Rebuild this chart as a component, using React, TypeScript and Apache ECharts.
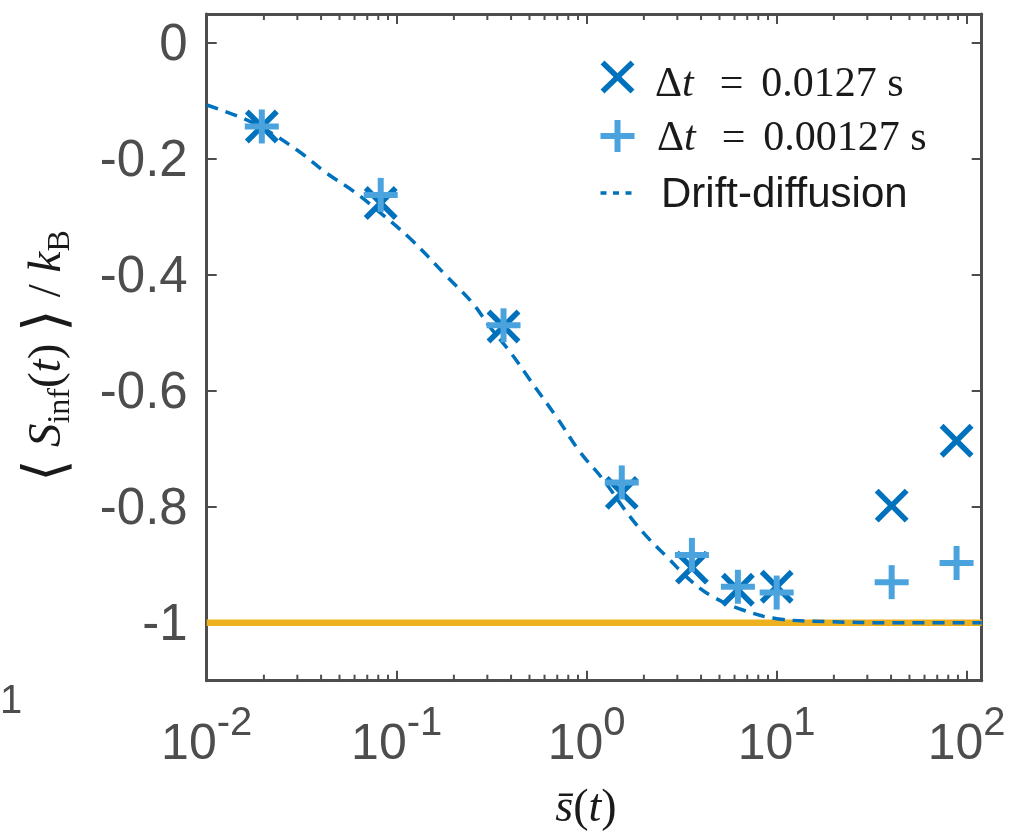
import React, { useEffect, useRef } from 'react';
import * as echarts from 'echarts';

// ---- data ----
const xTickValues = [0.01, 0.1, 1, 10, 100];
const xTickExponents = ['-2', '-1', '0', '1', '2'];
const yTickValues = [-1, -0.8, -0.6, -0.4, -0.2, 0];
const minorTickValues = [
  0.02, 0.03, 0.04, 0.05, 0.06, 0.07, 0.08, 0.09,
  0.2, 0.3, 0.4, 0.5, 0.6, 0.7, 0.8, 0.9,
  2, 3, 4, 5, 6, 7, 8, 9,
  20, 30, 40, 50, 60, 70, 80, 90,
];
const sampleX = [0.0195, 0.0824, 0.365, 1.53, 3.58, 6.25, 10, 40.3, 88.5];
const coarseY = [-0.144, -0.276, -0.489, -0.776, -0.905, -0.943, -0.938, -0.798, -0.686]; // Δt = 0.0127 s
const fineY = [-0.144, -0.262, -0.487, -0.758, -0.883, -0.938, -0.948, -0.930, -0.897]; // Δt = 0.00127 s
const driftX = [0.01, 0.015, 0.02, 0.03, 0.043, 0.06, 0.08, 0.12, 0.184, 0.25, 0.31, 0.4, 0.5, 0.7, 0.92, 1.22, 1.69, 2.15, 2.64, 3.49, 4.61, 6.64, 10, 18.4, 40, 120];
const driftY = [-0.107, -0.128, -0.148, -0.185, -0.225, -0.257, -0.29, -0.34, -0.403, -0.448, -0.49, -0.535, -0.58, -0.647, -0.705, -0.753, -0.817, -0.857, -0.886, -0.926, -0.955, -0.978, -0.993, -0.998, -1.0, -1.0];
const boundX = [0.01, 120];
const boundY = [-1, -1];
const xRange = [0.01, 120];
const yRange = [-1.1, 0.05];

const AXIS = '#4d4d4d';
const DARK = '#0072BD';
const LIGHT = '#4BA3DE';
const GOLD = '#EDB120';
const INK = '#1a1a1a';
const SANS = '"Liberation Sans", Arial, Helvetica, sans-serif';
const SERIF = '"Liberation Serif", "Times New Roman", serif';
const BASE_SIZE = 50;
const SUP_SIZE = 40;

function measure(text: string, font: string): number {
  const c = document.createElement('canvas').getContext('2d');
  if (!c) return text.length * 25;
  c.font = font;
  return c.measureText(text).width;
}

export default function App() {
  const ref = useRef<HTMLDivElement>(null);
  useEffect(() => {
    if (!ref.current) return;
    const chart = echarts.init(ref.current, undefined, { renderer: 'svg' });

    const crossItem = (color: string, h: number, w: number) => (params: any, api: any) => {
      const p = api.coord([api.value(0), api.value(1)]);
      return {
        type: 'group',
        children: [
          { type: 'line', shape: { x1: p[0] - h, y1: p[1] - h, x2: p[0] + h, y2: p[1] + h }, style: { stroke: color, lineWidth: w } },
          { type: 'line', shape: { x1: p[0] - h, y1: p[1] + h, x2: p[0] + h, y2: p[1] - h }, style: { stroke: color, lineWidth: w } },
        ],
      };
    };
    const plusItem = (color: string, h: number, w: number) => (params: any, api: any) => {
      const p = api.coord([api.value(0), api.value(1)]);
      return {
        type: 'group',
        children: [
          { type: 'line', shape: { x1: p[0] - h, y1: p[1], x2: p[0] + h, y2: p[1] }, style: { stroke: color, lineWidth: w } },
          { type: 'line', shape: { x1: p[0], y1: p[1] - h, x2: p[0], y2: p[1] + h }, style: { stroke: color, lineWidth: w } },
        ],
      };
    };

    const yFormatter = (v: number) => {
      if (Math.abs(v) < 1e-9) return '0';
      if (Math.abs(v + 1) < 1e-9) return '-1';
      return v.toFixed(1);
    };

    const baseW = measure('10', `${BASE_SIZE}px ${SANS}`);

    const baseX = {
      type: 'log',
      logBase: 10,
      min: xRange[0],
      max: xRange[1],
      axisLine: { show: true, onZero: false, lineStyle: { color: AXIS, width: 3 } },
      axisTick: { show: true, inside: true, length: 10, lineStyle: { color: AXIS, width: 2 } },
      axisLabel: { show: false },
      splitLine: { show: false },
      minorTick: { show: false },
    };
    const baseY = {
      type: 'value',
      min: yRange[0],
      max: yRange[1],
      axisLine: { show: true, onZero: false, lineStyle: { color: AXIS, width: 3 } },
      axisTick: { show: true, inside: true, length: 10, customValues: yTickValues, lineStyle: { color: AXIS, width: 2 } },
      splitLine: { show: false },
    };

    const mathRich = (size: number) => ({
      r: { fontFamily: SERIF, fontSize: size, fill: INK, color: INK },
      i: { fontFamily: SERIF, fontSize: size, fontStyle: 'italic', fill: INK, color: INK },
      eq: { fontFamily: SERIF, fontSize: size, fill: INK, color: INK, padding: [0, 18, 0, 26] },
    });

    chart.setOption({
      animation: false,
      grid: { left: 206.7, right: 27.3, top: 14, bottom: 151.3, containLabel: false },
      xAxis: [
        { ...baseX, position: 'bottom' },
        { ...baseX, position: 'top' },
      ],
      yAxis: [
        {
          ...baseY,
          position: 'left',
          axisLabel: { show: true, customValues: yTickValues, formatter: yFormatter, color: AXIS, fontFamily: SANS, fontSize: 51, margin: 19 },
        },
        { ...baseY, position: 'right', axisLabel: { show: false } },
      ],
      series: [
        {
          type: 'custom',
          name: 'minor ticks',
          silent: true,
          data: minorTickValues.map((v) => [v, yRange[0]]),
          renderItem: (params: any, api: any) => {
            const x = api.coord([api.value(0), yRange[0]])[0];
            const cs = params.coordSys;
            const b = cs.y + cs.height;
            return {
              type: 'group',
              children: [
                { type: 'line', shape: { x1: x, y1: b, x2: x, y2: b - 6 }, style: { stroke: AXIS, lineWidth: 2 } },
                { type: 'line', shape: { x1: x, y1: cs.y, x2: x, y2: cs.y + 6 }, style: { stroke: AXIS, lineWidth: 2 } },
              ],
            };
          },
          z: 1,
        },
        {
          type: 'custom',
          name: 'x tick labels',
          silent: true,
          clip: false,
          data: xTickValues.map((v, i) => [v, yRange[0], i]),
          renderItem: (params: any, api: any) => {
            const x = api.coord([api.value(0), yRange[0]])[0];
            const cs = params.coordSys;
            const b = cs.y + cs.height;
            const exp = xTickExponents[api.value(2)];
            const supW = measure(exp, `${SUP_SIZE}px ${SANS}`);
            const left = x - (baseW + supW) / 2;
            return {
              type: 'group',
              children: [
                { type: 'text', x: left, y: b + 61, style: { text: '10', fontFamily: SANS, fontSize: BASE_SIZE, fill: AXIS, align: 'left', verticalAlign: 'middle' } },
                { type: 'text', x: left + baseW, y: b + 40, style: { text: exp, fontFamily: SANS, fontSize: SUP_SIZE, fill: AXIS, align: 'left', verticalAlign: 'middle' } },
              ],
            };
          },
          z: 1,
        },
        {
          type: 'line',
          name: 'bound',
          data: boundX.map((x, i) => [x, boundY[i]]),
          symbol: 'none',
          lineStyle: { color: GOLD, width: 6.5 },
          z: 2,
        },
        {
          type: 'line',
          name: 'Drift-diffusion',
          data: driftX.map((x, i) => [x, driftY[i]]),
          symbol: 'none',
          smooth: 0.4,
          lineStyle: { color: DARK, width: 3.5, type: [12, 8] },
          z: 3,
        },
        {
          type: 'custom',
          name: 'Δt = 0.0127 s',
          data: sampleX.map((x, i) => [x, coarseY[i]]),
          renderItem: crossItem(DARK, 15, 5.5),
          z: 4,
        },
        {
          type: 'custom',
          name: 'Δt = 0.00127 s',
          data: sampleX.map((x, i) => [x, fineY[i]]),
          renderItem: plusItem(LIGHT, 17, 6),
          z: 5,
        },
      ],
      graphic: [
        // legend
        {
          type: 'group', x: 617.5, y: 77, z: 10,
          children: [
            { type: 'line', shape: { x1: -15, y1: -14.5, x2: 15, y2: 14.5 }, style: { stroke: DARK, lineWidth: 5.5 } },
            { type: 'line', shape: { x1: -15, y1: 14.5, x2: 15, y2: -14.5 }, style: { stroke: DARK, lineWidth: 5.5 } },
          ],
        },
        {
          type: 'text', x: 655, y: 82, z: 10,
          style: { text: '{r|Δ}{i|t}{eq|=}{r|0.0127 s}', align: 'left', verticalAlign: 'middle', rich: mathRich(42) },
        },
        {
          type: 'group', x: 617.5, y: 136, z: 10,
          children: [
            { type: 'line', shape: { x1: -17, y1: 0, x2: 17, y2: 0 }, style: { stroke: LIGHT, lineWidth: 6 } },
            { type: 'line', shape: { x1: 0, y1: -16, x2: 0, y2: 16 }, style: { stroke: LIGHT, lineWidth: 6 } },
          ],
        },
        {
          type: 'text', x: 657, y: 136, z: 10,
          style: { text: '{r|Δ}{i|t}{eq|=}{r|0.00127 s}', align: 'left', verticalAlign: 'middle', rich: mathRich(42) },
        },
        {
          type: 'line', z: 10,
          shape: { x1: 600.5, y1: 193, x2: 634, y2: 193 },
          style: { stroke: DARK, lineWidth: 3.5, lineDash: [6, 6.5] },
        },
        {
          type: 'text', x: 661, y: 192, z: 10,
          style: { text: 'Drift-diffusion', align: 'left', verticalAlign: 'middle', fontFamily: SANS, fontSize: 42, fill: INK },
        },
        // y axis title
        {
          type: 'text', x: 44, y: 356, rotation: Math.PI / 2, z: 10,
          style: {
            text: '{br|⟨}{a| }{i|S}{sub|inf}{a|(}{i|t}{a|) }{br|⟩}{a| / }{i|k}{sub|B}',
            align: 'center', verticalAlign: 'middle',
            rich: {
              br: { fontFamily: SERIF, fontSize: 58, lineHeight: 60, fill: INK, color: INK },
              a: { fontFamily: SERIF, fontSize: 47, lineHeight: 60, fill: INK, color: INK },
              i: { fontFamily: SERIF, fontSize: 47, lineHeight: 60, fontStyle: 'italic', fill: INK, color: INK },
              sub: { fontFamily: SERIF, fontSize: 32, lineHeight: 24, verticalAlign: 'bottom', fill: INK, color: INK },
            },
          },
        },
        // x axis title
        {
          type: 'text', x: 586, y: 805, z: 10,
          style: {
            text: '{i|s\u0304}{a|(}{i|t}{a|)}',
            align: 'center', verticalAlign: 'middle',
            rich: {
              a: { fontFamily: SERIF, fontSize: 46, fill: INK, color: INK },
              i: { fontFamily: SERIF, fontSize: 46, fontStyle: 'italic', fill: INK, color: INK },
            },
          },
        },
        // clipped stray label at the left edge
        {
          type: 'text', x: 0, y: 699, z: 10,
          style: { text: '1', align: 'left', verticalAlign: 'middle', fontFamily: SANS, fontSize: 40, fill: AXIS },
        },
      ],
    });
    return () => chart.dispose();
  }, []);
  return <div ref={ref} style={{ position: 'fixed', left: 0, top: 0, width: 1009, height: 832 }} />;
}
